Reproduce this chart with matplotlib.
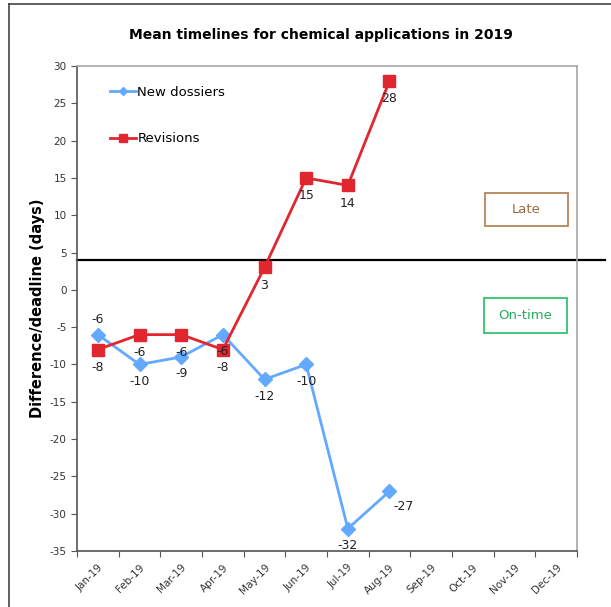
import matplotlib
matplotlib.use("Agg")
import matplotlib.pyplot as plt
from matplotlib.patches import Rectangle
from matplotlib.lines import Line2D

months = ["Jan-19", "Feb-19", "Mar-19", "Apr-19", "May-19", "Jun-19",
          "Jul-19", "Aug-19", "Sep-19", "Oct-19", "Nov-19", "Dec-19"]
new_dossiers = [-6, -10, -9, -6, -12, -10, -32, -27]
revisions = [-8, -6, -6, -8, 3, 15, 14, 28]
deadline_line = 4
yticks = list(range(-35, 31, 5))

blue = "#62A9FF"
red = "#E0262F"

W, H = 611, 607
fig = plt.figure(figsize=(W / 100, H / 100), dpi=100)
fig.patch.set_facecolor("white")

L, R, T, B = 77, 577, 66, 551
ax = fig.add_axes([L / W, 1 - B / H, (R - L) / W, (B - T) / H])

x_nd = list(range(len(new_dossiers)))
x_rv = list(range(len(revisions)))
ax.plot(x_nd, new_dossiers, color=blue, lw=2.0, marker="D", ms=7,
        label="New dossiers", zorder=3)
ax.plot(x_rv, revisions, color=red, lw=2.0, marker="s", ms=8,
        label="Revisions", zorder=4)

ax.axhline(deadline_line, xmin=0, xmax=(605 - L) / (R - L), color="black",
           lw=1.6, clip_on=False, zorder=2)

lbl_kw = dict(textcoords="offset points", ha="center", va="center",
              fontsize=9, color="#222222", zorder=5)
for i, v in enumerate(new_dossiers):
    if i == 0:
        off = (0, 11)
    elif i == 7:
        off = (10, -11)
    else:
        off = (0, -12)
    ax.annotate(str(v), (i, v), xytext=off, **lbl_kw)
for i, v in enumerate(revisions):
    ax.annotate(str(v), (i, v), xytext=(0, -13), **lbl_kw)

ax.set_xlim(-0.5, 11.5)
ax.set_ylim(-35, 30)
ax.set_yticks(yticks)
ax.set_yticklabels([str(t) for t in yticks])
ax.set_xticks([i - 0.5 for i in range(13)])
ax.set_xticklabels([])
ax.set_xticks(range(12), minor=True)
ax.set_xticklabels(months, minor=True, rotation=45, ha="right",
                   rotation_mode="anchor")
ax.tick_params(axis="x", which="minor", length=0, pad=8, labelsize=7.5,
               colors="#333333")
ax.tick_params(axis="x", which="major", length=4, direction="out",
               color="#555555")
ax.tick_params(axis="y", length=4, direction="out", labelsize=7.5,
               colors="#333333", color="#555555")
for s in ["left", "bottom"]:
    ax.spines[s].set_color("#555555")
    ax.spines[s].set_linewidth(1.2)
for s in ["right", "top"]:
    ax.spines[s].set_color("#A6A6A6")
    ax.spines[s].set_linewidth(1.2)

ax.set_ylabel("Difference/deadline (days)", fontsize=10.5, fontweight="bold")
ax.yaxis.set_label_coords((45 - L) / (R - L), 0.5)

leg = ax.legend(loc="upper left", bbox_to_anchor=(0.055, 0.97), frameon=False,
                fontsize=9.5, handlelength=2.0, labelspacing=2.55,
                handletextpad=0.1, borderaxespad=0, markerscale=0.65)

fig.text(321 / W, 1 - 35 / H, "Mean timelines for chemical applications in 2019",
         ha="center", va="center", fontsize=10, fontweight="bold")

# Late / On-time boxes
def box(x0, y0, x1, y1, txt, ec, tc):
    fig.add_artist(Rectangle((x0 / W, 1 - y1 / H), (x1 - x0) / W, (y1 - y0) / H,
                             transform=fig.transFigure, fill=False, ec=ec, lw=1.3))
    fig.text((x0 + x1) / 2 / W, 1 - (y0 + y1) / 2 / H, txt, ha="center",
             va="center", fontsize=9.5, color=tc)

box(485, 193, 568, 226, "Late", "#B5865A", "#9C6A3E")
box(484, 298, 567, 333, "On-time", "#33C46F", "#23AD5C")

# outer frame (left and top)
fig.add_artist(Line2D([9 / W, 9 / W], [0, 1 - 4 / H], transform=fig.transFigure,
                      color="#444444", lw=1.2))
fig.add_artist(Line2D([9 / W, 1], [1 - 4 / H, 1 - 4 / H], transform=fig.transFigure,
                      color="#444444", lw=1.2))

fig.savefig("out.png", dpi=100, facecolor="white")
